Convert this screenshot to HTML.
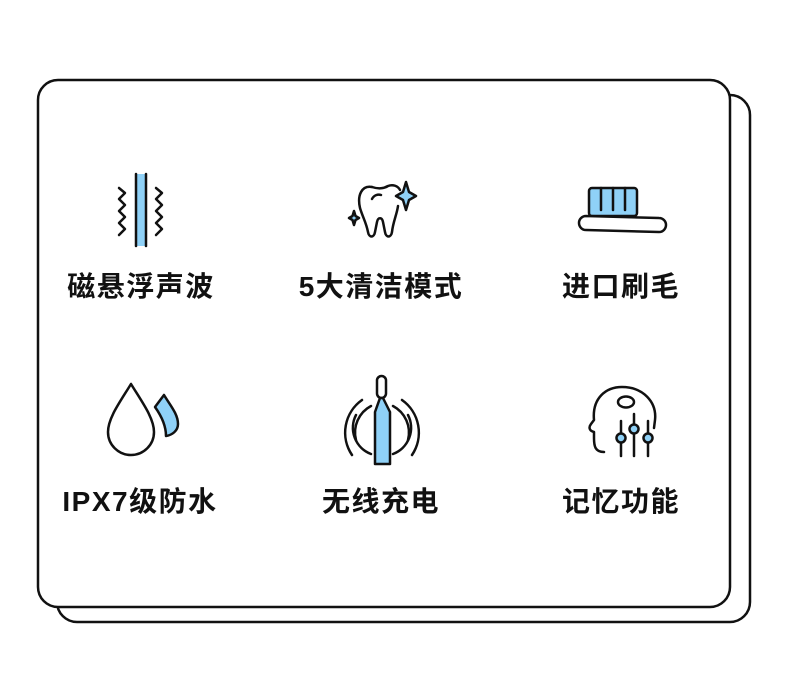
<!DOCTYPE html><html><head><style>body{margin:0;background:#fff}svg{display:block}</style></head><body>
<svg width="790" height="678" viewBox="0 0 790 678" xmlns="http://www.w3.org/2000/svg" font-family="Liberation Sans, Noto Sans CJK SC, sans-serif">
<rect x="57" y="95" width="693" height="527" rx="20" fill="#fff" stroke="#111" stroke-width="2.5"/>
<rect x="38" y="80" width="692" height="527" rx="20" fill="#fff" stroke="#111" stroke-width="2.5"/>
<g fill="none" stroke="#111" stroke-width="2.5" stroke-linejoin="round" stroke-linecap="round">
<rect x="135" y="174" width="12" height="72" fill="#8fd1f7" stroke="none"/>
<line x1="136" y1="174" x2="136" y2="246"/><line x1="146" y1="174" x2="146" y2="246"/>
<polyline points="119,188 125,193 119,199 125,205 119,211 125,217 119,223 125,229 119,235"/>
<polyline points="156,188 162,193 156,199 162,205 156,211 162,217 156,223 162,229 156,235"/>
<path d="M372,187 C362,185 357,195 360,208 C363,218 366,222 368,232 C369,238 374,238 375,232 L377,222 C378,217 382,217 383,222 L385,232 C386,238 391,238 392,232 C393,222 397,214 398,206" />
<path d="M372,187 C378,189 383,189 388,186 C393,184 398,186 400,190"/>
<path d="M372,199 C374,195 378,194 381,195"/>
<path d="M406,182 L409,192 L416,196 L409,200 L406,210 L403,200 L396,196 L403,192 Z" fill="#8fd1f7"/>
<path d="M354,211 L355.5,216 L359,218 L355.5,220 L354,225 L352.5,220 L349,218 L352.5,216 Z" fill="#8fd1f7"/>
<rect x="589" y="188" width="48" height="28" rx="3" fill="#8fd1f7"/>
<line x1="601" y1="188" x2="601" y2="210"/><line x1="613" y1="188" x2="613" y2="210"/><line x1="625" y1="188" x2="625" y2="210"/>
<path d="M586,216 L659,218 A7,7 0 0 1 659,232 L586,230 A7,7 0 0 1 586,216 Z" fill="#fff"/>
<path d="M131,384 C120,402 108,418 108,432 A23,23 0 0 0 154,432 C154,418 142,402 131,384 Z"/>
<path d="M164,395 C170,405 178,414 178,424 C178,431 172,435 166,436 C166,425 160,414 155,407 Z" fill="#8fd1f7"/>
<path d="M356,415 A28,28 0 0 0 371,454"/><path d="M371,406 A30,30 0 0 0 356,440"/>
<path d="M362,400 A40,40 0 0 0 352,455"/>
<path d="M393,406 A30,30 0 0 1 408,440"/><path d="M408,415 A28,28 0 0 1 393,454"/>
<path d="M402,400 A40,40 0 0 1 412,455"/>
<rect x="377" y="376" width="9" height="22" rx="4.5" fill="#fff"/>
<path d="M380,398 L383,398 L390,412 L390,464 L375,464 L375,412 Z" fill="#8fd1f7"/>
<path d="M604,452 C595,452 594,446 594,438 L594,432 C590,431 588,428 591,424 L594,420 C592,398 606,387 622,387 C643,387 657,402 655,420 L654,428"/>
<ellipse cx="626" cy="402" rx="8" ry="5.5"/>
<line x1="621" y1="421" x2="621" y2="456"/><line x1="634" y1="414" x2="634" y2="456"/><line x1="648" y1="421" x2="648" y2="456"/>
<circle cx="621" cy="438" r="4.5" fill="#8fd1f7"/><circle cx="634" cy="429" r="4.5" fill="#8fd1f7"/><circle cx="648" cy="438" r="4.5" fill="#8fd1f7"/>
</g>
<g font-size="28" font-weight="bold" fill="#111" text-anchor="middle" letter-spacing="1.5">
<text x="141" y="296">磁悬浮声波</text>
<text x="381" y="296">5大清洁模式</text>
<text x="621" y="296">进口刷毛</text>
<text x="140" y="511">IPX7级防水</text>
<text x="381" y="511">无线充电</text>
<text x="621" y="511">记忆功能</text>
</g>
</svg></body></html>
